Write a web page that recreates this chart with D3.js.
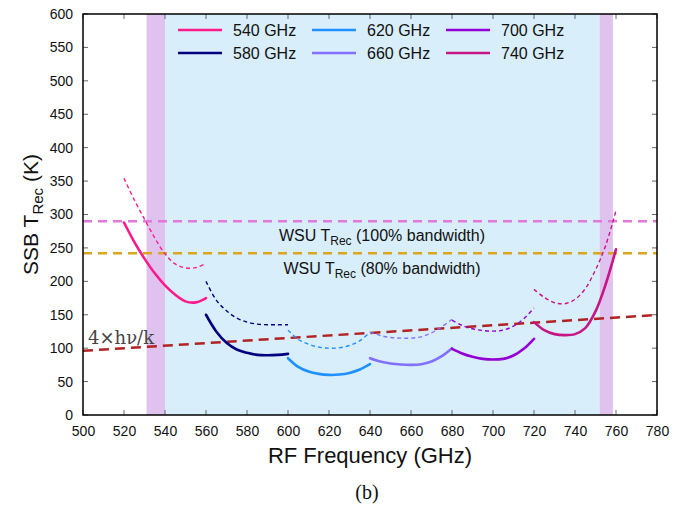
<!DOCTYPE html>
<html>
<head>
<meta charset="utf-8">
<script src="https://cdn.jsdelivr.net/npm/d3@7"></script>
<style>
  body { margin: 0; background: #fff; }
  svg text { font-family: 'Liberation Sans', Arial, sans-serif; }
</style>
</head>
<body>
<div id="graf"></div>
<script>
// datos
var bandas = ['540 GHz', '580 GHz', '620 GHz', '660 GHz', '700 GHz', '740 GHz']
var colores = ['#ff1a8c', '#00007f', '#1e90ff', '#8470ff', '#9400d3', '#c71585']
var inicio = [520, 560, 600, 640, 680, 720]
var pasos = [0, 5, 10, 15, 20, 25, 30, 35, 40]

var t540 = [288, 259, 234, 212, 194, 180, 170, 168.5, 175]
var t540d = [354, 322, 293, 265, 241, 226, 220, 220.5, 227]
var t580 = [150, 125, 108, 98, 93, 90, 89.5, 90, 91.5]
var t580d = [200, 172, 156, 145, 139, 136, 135, 135, 135]
var t620 = [85, 72, 65, 61.5, 60, 60.5, 63, 68, 76]
var t620d = [127, 113, 106, 101.5, 100, 100.5, 104, 111, 124]
var t660 = [85, 80, 77, 75.5, 75, 76, 80, 88, 100]
var t660d = [124, 119, 116, 115, 115, 117, 123, 132, 143]
var t700 = [99, 92, 87, 84, 83, 84, 89, 99, 114]
var t700d = [142, 134, 129, 126.5, 125.5, 127, 133, 144, 160]
var t740 = [139, 127, 121, 119.5, 121, 130, 155, 196, 248]
var t740d = [188, 176, 168, 166.5, 173, 189, 217, 254, 306]

var solidas = [t540, t580, t620, t660, t700, t740]
var punteadas = [t540d, t580d, t620d, t660d, t700d, t740d]

var wsu100 = 290
var wsu80 = 242
var hvk = [[500, 95.97], [780, 149.7]]   // 4 h nu / k
var zonaMorada = [[531, 540], [752, 758.5]]
var zonaAzul = [540, 752]

var xTicks = d3.range(500, 781, 20)
var yTicks = d3.range(0, 601, 50)

// dimensiones
var ancho_total = 688, alto_total = 510
var margins = { top: 14, left: 83, right: 31, bottom: 95 }
var ancho = ancho_total - margins.left - margins.right
var alto = alto_total - margins.top - margins.bottom

var svg = d3.select('#graf').append('svg')
  .attr('width', ancho_total).attr('height', alto_total)

var g = svg.append('g')
  .attr('transform', 'translate(' + margins.left + ',' + margins.top + ')')

var x = d3.scaleLinear().domain([500, 780]).range([0, ancho])
var y = d3.scaleLinear().domain([0, 600]).range([alto, 0])

// zonas sombreadas
g.append('rect')
  .attr('x', x(zonaAzul[0])).attr('y', 0)
  .attr('width', x(zonaAzul[1]) - x(zonaAzul[0])).attr('height', alto)
  .attr('fill', '#d8eefa')

g.selectAll('.morada').data(zonaMorada).enter().append('rect')
  .attr('x', d => x(d[0])).attr('y', 0)
  .attr('width', d => x(d[1]) - x(d[0])).attr('height', alto)
  .attr('fill', '#dfc3ee')

// ejes
var xAxis = d3.axisBottom(x).tickValues(xTicks).tickSize(0).tickPadding(11)
var yAxis = d3.axisLeft(y).tickValues(yTicks).tickSize(0).tickPadding(10)

var gx = g.append('g').attr('transform', 'translate(0,' + alto + ')').call(xAxis)
var gy = g.append('g').call(yAxis)
;[gx, gy].forEach(a => {
  a.select('.domain').remove()
  a.selectAll('text').style('font-size', '14px').attr('fill', '#111')
})

// ticks hacia adentro
var tk = g.append('g').attr('stroke', '#666').attr('stroke-width', 1)
xTicks.forEach(v => {
  tk.append('line').attr('x1', x(v)).attr('x2', x(v)).attr('y1', alto).attr('y2', alto - 5)
  tk.append('line').attr('x1', x(v)).attr('x2', x(v)).attr('y1', 0).attr('y2', 5)
})
yTicks.forEach(v => {
  tk.append('line').attr('x1', 0).attr('x2', 5).attr('y1', y(v)).attr('y2', y(v))
  tk.append('line').attr('x1', ancho).attr('x2', ancho - 5).attr('y1', y(v)).attr('y2', y(v))
})

// lineas horizontales
g.append('line')
  .attr('x1', 0).attr('x2', ancho).attr('y1', y(wsu100)).attr('y2', y(wsu100))
  .attr('stroke', '#e07ad8').attr('stroke-width', 2.5).attr('stroke-dasharray', '9,6')
g.append('line')
  .attr('x1', 0).attr('x2', ancho).attr('y1', y(wsu80)).attr('y2', y(wsu80))
  .attr('stroke', '#daa520').attr('stroke-width', 2.5).attr('stroke-dasharray', '9,6')
g.append('line')
  .attr('x1', x(hvk[0][0])).attr('x2', x(hvk[1][0]))
  .attr('y1', y(hvk[0][1])).attr('y2', y(hvk[1][1]))
  .attr('stroke', '#b22222').attr('stroke-width', 2.5).attr('stroke-dasharray', '10,6')

// curvas
var linea = d3.line()
  .x(d => x(d[0])).y(d => y(d[1]))
  .curve(d3.curveCatmullRom.alpha(0.5))

bandas.forEach((b, i) => {
  var ptsD = pasos.map((p, j) => [inicio[i] + p, punteadas[i][j]])
  var ptsS = pasos.map((p, j) => [inicio[i] + p, solidas[i][j]])
  g.append('path').datum(ptsD).attr('d', linea)
    .attr('fill', 'none').attr('stroke', colores[i])
    .attr('stroke-width', 1.4).attr('stroke-dasharray', '4,3')
  g.append('path').datum(ptsS).attr('d', linea)
    .attr('fill', 'none').attr('stroke', colores[i])
    .attr('stroke-width', 2.6).attr('stroke-linecap', 'round')
})

// marco
g.append('rect').attr('width', ancho).attr('height', alto)
  .attr('fill', 'none').attr('stroke', '#000').attr('stroke-width', 1.5)

// textos
function trec(sel, pre, post, fs, sub) {
  sel.append('tspan').text(pre)
  sel.append('tspan').text('Rec').style('font-size', sub + 'px').attr('dy', fs * 0.25)
  sel.append('tspan').text(post).attr('dy', -fs * 0.25)
}
var t1 = g.append('text').attr('x', 299).attr('y', 227).attr('text-anchor', 'middle')
  .style('font-size', '16px').attr('fill', '#111')
trec(t1, 'WSU T', ' (100% bandwidth)', 16, 12)
var t2 = g.append('text').attr('x', 299).attr('y', 260).attr('text-anchor', 'middle')
  .style('font-size', '16px').attr('fill', '#111')
trec(t2, 'WSU T', ' (80% bandwidth)', 16, 12)

g.append('text').attr('x', 5).attr('y', 330)
  .style('font-family', "'DejaVu Serif', serif").style('font-size', '18px')
  .attr('fill', '#444').text('4×hν/k')

// leyenda
var leyenda = svg.append('g').selectAll('g').data(bandas).enter().append('g')
  .attr('transform', (d, i) => 'translate(' + (178 + Math.floor(i / 2) * 134) + ',' + (30 + (i % 2) * 23) + ')')
leyenda.append('line').attr('x1', 0).attr('x2', 44).attr('y1', 0).attr('y2', 0)
  .attr('stroke', (d, i) => colores[i]).attr('stroke-width', 2.5)
leyenda.append('text').attr('x', 55).attr('y', 6)
  .style('font-size', '16px').attr('fill', '#111').text(d => d)

// titulos de ejes
svg.append('text').attr('x', margins.left + ancho / 2).attr('y', 463)
  .attr('text-anchor', 'middle').style('font-size', '22px').attr('fill', '#111')
  .text('RF Frequency (GHz)')

var ty = svg.append('text').attr('transform', 'translate(38,' + (margins.top + alto / 2) + ') rotate(-90)')
  .attr('text-anchor', 'middle').style('font-size', '21px').attr('fill', '#111')
trec(ty, 'SSB T', ' (K)', 21, 15)

svg.append('text').attr('x', 367).attr('y', 499).attr('text-anchor', 'middle')
  .style('font-family', "'Liberation Serif', serif").style('font-size', '20px')
  .attr('fill', '#111').text('(b)')
</script>
</body>
</html>
